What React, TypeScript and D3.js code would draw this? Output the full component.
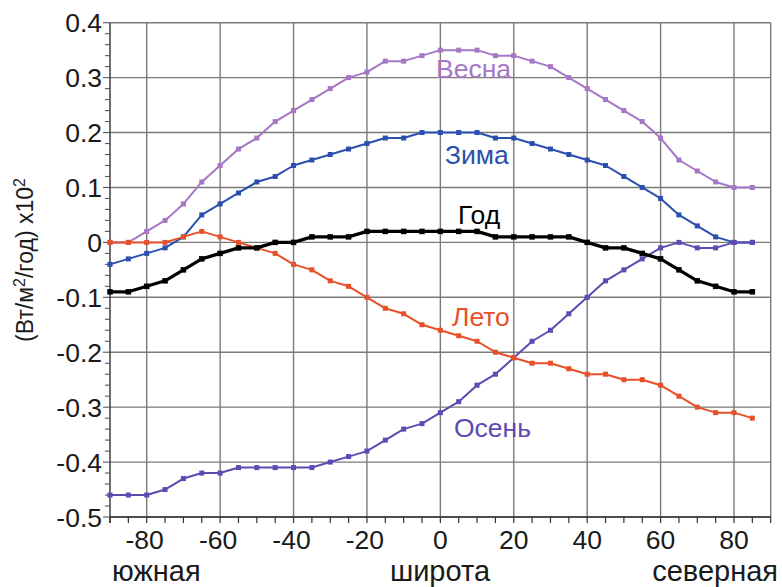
import React from "react";
import * as d3 from "d3";

const latitudes = [-90,-85,-80,-75,-70,-65,-60,-55,-50,-45,-40,-35,-30,-25,-20,-15,-10,-5,0,5,10,15,20,25,30,35,40,45,50,55,60,65,70,75,80,85];

const vesna = [0,0,0.02,0.04,0.07,0.11,0.14,0.17,0.19,0.22,0.24,0.26,0.28,0.30,0.31,0.33,0.33,0.34,0.35,0.35,0.35,0.34,0.34,0.33,0.32,0.30,0.28,0.26,0.24,0.22,0.19,0.15,0.13,0.11,0.10,0.10];
const zima = [-0.04,-0.03,-0.02,-0.01,0.01,0.05,0.07,0.09,0.11,0.12,0.14,0.15,0.16,0.17,0.18,0.19,0.19,0.20,0.20,0.20,0.20,0.19,0.19,0.18,0.17,0.16,0.15,0.14,0.12,0.10,0.08,0.05,0.03,0.01,0,0];
const god = [-0.09,-0.09,-0.08,-0.07,-0.05,-0.03,-0.02,-0.01,-0.01,0,0,0.01,0.01,0.01,0.02,0.02,0.02,0.02,0.02,0.02,0.02,0.01,0.01,0.01,0.01,0.01,0,-0.01,-0.01,-0.02,-0.03,-0.05,-0.07,-0.08,-0.09,-0.09];
const leto = [0,0,0,0,0.01,0.02,0.01,0,-0.01,-0.02,-0.04,-0.05,-0.07,-0.08,-0.10,-0.12,-0.13,-0.15,-0.16,-0.17,-0.18,-0.20,-0.21,-0.22,-0.22,-0.23,-0.24,-0.24,-0.25,-0.25,-0.26,-0.28,-0.30,-0.31,-0.31,-0.32];
const osen = [-0.46,-0.46,-0.46,-0.45,-0.43,-0.42,-0.42,-0.41,-0.41,-0.41,-0.41,-0.41,-0.40,-0.39,-0.38,-0.36,-0.34,-0.33,-0.31,-0.29,-0.26,-0.24,-0.21,-0.18,-0.16,-0.13,-0.10,-0.07,-0.05,-0.03,-0.01,0,-0.01,-0.01,0,0];

const xTickLabels = [-80,-60,-40,-20,0,20,40,60,80];
const yTickLabels = [-0.5,-0.4,-0.3,-0.2,-0.1,0,0.1,0.2,0.3,0.4];

const seriesNames = ["Весна","Зима","Осень","Лето","Год"];

export default function App() {
  const W = 782, H = 587;
  const x = d3.scaleLinear().domain([-90, 90]).range([110, 770.7]);
  const y = d3.scaleLinear().domain([-0.5, 0.4]).range([517, 22.7]);
  const font = "'Liberation Sans', Arial, sans-serif";

  const series = [
    { name: seriesNames[0], values: vesna, color: "#a577c6", width: 2, ms: 5, lx: 436, ly: 78 },
    { name: seriesNames[1], values: zima, color: "#2b4fae", width: 2, ms: 5, lx: 445, ly: 164 },
    { name: seriesNames[2], values: osen, color: "#5b4bb2", width: 2, ms: 5, lx: 454, ly: 437 },
    { name: seriesNames[3], values: leto, color: "#e8502a", width: 2, ms: 5, lx: 452, ly: 326 },
    { name: seriesNames[4], values: god, color: "#000000", width: 3.2, ms: 5.5, lx: 458, ly: 224 },
  ];

  const line = d3.line<number>().x((_, i) => x(latitudes[i])).y((d) => y(d));

  const xMinor = d3.range(-90, 90.1, 5);
  const yMinor = d3.range(-50, 40.1, 2).map((v) => v / 100);
  const fmt = (t: number) => (t === 0 ? "0" : t.toFixed(1));

  return (
    <svg width={W} height={H} style={{ position: "absolute", left: 0, top: 0, background: "#fff" }} fontFamily={font}>
      {xTickLabels.map((t) => (
        <line key={"gx" + t} x1={x(t)} x2={x(t)} y1={y(0.4)} y2={y(-0.5)} stroke="#7a7a7a" strokeWidth={1.4} />
      ))}
      <line x1={x(90)} x2={x(90)} y1={y(0.4)} y2={y(-0.5)} stroke="#7a7a7a" strokeWidth={1.4} />
      {yTickLabels.map((t) => (
        <line key={"gy" + t} x1={x(-90)} x2={x(90)} y1={y(t)} y2={y(t)} stroke="#7a7a7a" strokeWidth={1.4} />
      ))}
      <line x1={x(-90)} x2={x(-90)} y1={y(0.4)} y2={y(-0.5) + 6} stroke="#333" strokeWidth={1.4} />
      <line x1={x(-90)} x2={x(90)} y1={y(-0.5)} y2={y(-0.5)} stroke="#333" strokeWidth={1.4} />
      {xMinor.map((t) => (
        <line key={"tx" + t} x1={x(t)} x2={x(t)} y1={y(-0.5)} y2={y(-0.5) + 6} stroke="#333" strokeWidth={1.2} />
      ))}
      {yMinor.map((t, i) => (
        <line key={"ty" + i} x1={x(-90) - (i % 5 === 0 ? 7 : 5)} x2={x(-90)} y1={y(t)} y2={y(t)} stroke="#555" strokeWidth={1.1} />
      ))}
      {yTickLabels.map((t) => (
        <text key={"ly" + t} x={102} y={y(t)} dy="0.36em" textAnchor="end" fontSize={26.5} fill="#1a1a1a">
          {fmt(t)}
        </text>
      ))}
      {xTickLabels.map((t) => (
        <text key={"lx" + t} x={x(t) - (t < 0 ? 2 : 0)} y={549} textAnchor="middle" fontSize={26.5} fill="#1a1a1a">
          {String(t)}
        </text>
      ))}
      <text x={112} y={581} fontSize={29} fill="#1a1a1a">южная</text>
      <text x={440} y={581} textAnchor="middle" fontSize={29} fill="#1a1a1a">широта</text>
      <text x={778} y={581} textAnchor="end" fontSize={29} fill="#1a1a1a">северная</text>
      <text transform="translate(33,260) rotate(-90)" textAnchor="middle" fontSize={23} fill="#1a1a1a">
        (Вт/м<tspan dy={-8} fontSize={16}>2</tspan><tspan dy={8}>/год) x10</tspan><tspan dy={-8} fontSize={16}>2</tspan>
      </text>
      {series.map((s) => (
        <g key={s.name}>
          <path d={line(s.values) || ""} fill="none" stroke={s.color} strokeWidth={s.width} strokeLinejoin="round" />
          {s.values.map((v, i) => (
            <rect key={i} x={x(latitudes[i]) - s.ms / 2} y={y(v) - s.ms / 2} width={s.ms} height={s.ms} fill={s.color} />
          ))}
        </g>
      ))}
      {series.map((s) => (
        <text key={"n" + s.name} x={s.lx} y={s.ly} fontSize={26.5} fill={s.color}>{s.name}</text>
      ))}
    </svg>
  );
}
